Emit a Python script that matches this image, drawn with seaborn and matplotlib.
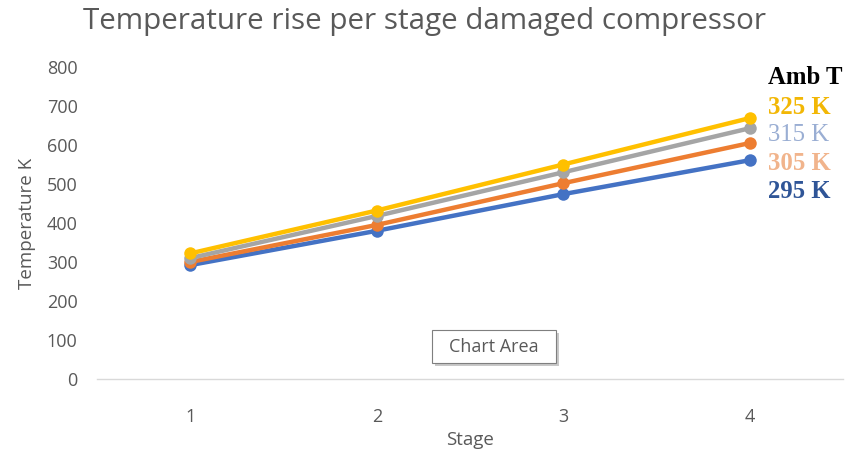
import matplotlib
matplotlib.use("Agg")
import matplotlib.pyplot as plt
from matplotlib.patches import Rectangle
import seaborn as sns
import pandas as pd

stages = [1, 2, 3, 4]
t_295 = [292, 380, 474, 561]
t_305 = [300, 395, 502, 605]
t_315 = [310, 418, 530, 643]
t_325 = [322, 432, 550, 669]
series_names = ["295 K", "305 K", "315 K", "325 K"]
line_colors = ["#4472C4", "#ED7D31", "#A5A5A5", "#FFC000"]

rows = []
for name, vals in zip(series_names, [t_295, t_305, t_315, t_325]):
    for s, v in zip(stages, vals):
        rows.append({"Stage": s, "Temperature": v, "Amb": name})
df = pd.DataFrame(rows)

sns.set_style("white")
plt.rcParams["font.family"] = ["Open Sans", "DejaVu Sans"]

W, H = 848, 455
fig = plt.figure(figsize=(W / 100, H / 100), dpi=100)
ax = fig.add_axes([97 / W, 1 - 379 / H, (843 - 97) / W, (379 - 67) / H])

sns.lineplot(data=df, x="Stage", y="Temperature", hue="Amb",
             hue_order=series_names, palette=line_colors,
             marker="o", markersize=9, markeredgewidth=0,
             linewidth=3.2, legend=False, ax=ax)

ax.set_xlim(0.5, 4.5)
ax.set_ylim(0, 800)
ax.set_xticks(stages)
ax.set_yticks(range(0, 801, 100))
ax.tick_params(axis="both", colors="#595959", labelsize=13, length=0)
ax.tick_params(axis="x", pad=21)
ax.tick_params(axis="y", pad=14)
for side in ["top", "right", "left"]:
    ax.spines[side].set_visible(False)
ax.spines["bottom"].set_color("#D9D9D9")
ax.spines["bottom"].set_linewidth(1)
ax.patch.set_alpha(0)

ax.set_xlabel("")
ax.set_ylabel("Temperature K", color="#595959", fontsize=13.5, labelpad=8)
fig.text(470 / W, 1 - 440 / H, "Stage", ha="center", va="center",
         color="#595959", fontsize=13.5)

fig.text(425 / W, 1 - 22 / H, "Temperature rise per stage damaged compressor",
         ha="center", va="center", color="#595959", fontsize=21.3)

# Series labels at the right end of the lines
serif = ["Liberation Serif", "DejaVu Serif"]
fig.text(768 / W, 1 - 78 / H, "Amb T", color="black", fontsize=17.8,
         fontweight="bold", family=serif, va="center")
label_specs = [
    ("325 K", "#F2B705", "bold", 107),
    ("315 K", "#9AAED3", "normal", 135),
    ("305 K", "#F1B48C", "bold", 163),
    ("295 K", "#2F5597", "bold", 192),
]
for text, color, weight, ypix in label_specs:
    fig.text(768 / W, 1 - ypix / H, text, color=color, fontsize=17.8,
             fontweight=weight, family=serif, va="center")

# Hover tooltip box with a soft shadow
bx0, bx1, by0, by1 = 432, 556, 330, 363
fig.patches.append(Rectangle(((bx0 + 3) / W, 1 - (by1 + 3) / H),
                             (bx1 - bx0) / W, (by1 - by0) / H,
                             transform=fig.transFigure, facecolor="#C8C8C8",
                             edgecolor="none", zorder=5))
fig.patches.append(Rectangle((bx0 / W, 1 - by1 / H),
                             (bx1 - bx0) / W, (by1 - by0) / H,
                             transform=fig.transFigure, facecolor="white",
                             edgecolor="#7F7F7F", linewidth=0.8, zorder=6))
fig.text((bx0 + bx1) / 2 / W, 1 - (by0 + by1) / 2 / H, "Chart Area",
         ha="center", va="center", color="#595959", fontsize=13, zorder=7)

fig.savefig("out.png", dpi=100)
